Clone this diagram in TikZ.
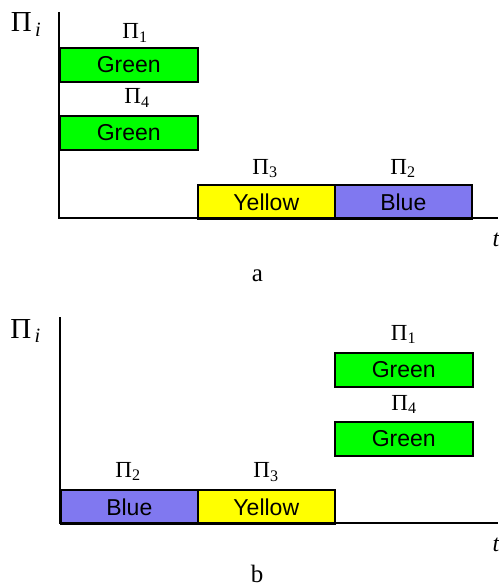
\documentclass[tikz,border=0pt]{standalone}
\usepackage{fontspec}
\setmainfont{Liberation Serif}
\newfontfamily\boxfont{Liberation Sans}
\definecolor{slotgreen}{RGB}{0,255,0}
\definecolor{slotyellow}{RGB}{255,255,0}
\definecolor{slotblue}{RGB}{128,120,240}
\newcommand{\procname}[1]{Π\textsubscript{#1}}
\tikzset{
  axis/.style={line width=2pt, black},
  slot/.style={draw=black, line width=1.6pt, inner sep=0pt, anchor=north west,
    minimum height=34pt, font=\boxfont\fontsize{23}{27}\selectfont},
  greenslot/.style={slot, fill=slotgreen, minimum width=138pt},
  yellowslot/.style={slot, fill=slotyellow, minimum width=137pt},
  blueslot/.style={slot, fill=slotblue, minimum width=137pt},
  plabel/.style={inner sep=0pt, anchor=base, font=\fontsize{23}{27}\selectfont},
  ylabel/.style={inner sep=0pt, anchor=base, font=\fontsize{29}{33}\selectfont},
  tlabel/.style={inner sep=0pt, anchor=base west, font=\itshape\fontsize{24}{28}\selectfont},
  caption/.style={inner sep=0pt, anchor=base, font=\fontsize{25}{29}\selectfont}
}
\begin{document}
\begin{tikzpicture}[x=1pt, y=-1pt]
\useasboundingbox (0,0) rectangle (498,588);

% ---------- schedule a ----------
\coordinate (aTop) at (59,12);
\coordinate (aOrig) at (59,218);
\coordinate (aEnd) at (498,218);
\node[greenslot]  (a1) at (59,47)   {Green};
\node[greenslot]  (a4) at (59,115)  {Green};
\node[yellowslot] (a3) at (197,184) {Yellow};
\node[blueslot]   (a2) at (334,184) {Blue};
\draw[axis] (aTop) -- (aOrig) -- (aEnd);
\node[plabel] (la1) at (135,38.3)  {\procname{1}};
\node[plabel] (la4) at (137,104)   {\procname{4}};
\node[plabel] (la3) at (265,174)   {\procname{3}};
\node[plabel] (la2) at (403,174)   {\procname{2}};
\node[ylabel] (ya) at (26,31.7) {Π\textsubscript{\,\itshape i}};
\node[tlabel] (ta) at (492.5,246) {t};
\node[caption] (capa) at (257.5,281) {a};

% ---------- schedule b ----------
\coordinate (bTop) at (60,317);
\coordinate (bOrig) at (60,523);
\coordinate (bEnd) at (498,523);
\node[blueslot]   (b2) at (60,489)  {Blue};
\node[yellowslot] (b3) at (197,489) {Yellow};
\node[greenslot]  (b1) at (334,352) {Green};
\node[greenslot]  (b4) at (334,421) {Green};
\draw[axis] (bTop) -- (bOrig) -- (bEnd);
\node[plabel] (lb2) at (128,477)  {\procname{2}};
\node[plabel] (lb3) at (266,477.5) {\procname{3}};
\node[plabel] (lb1) at (403.5,340) {\procname{1}};
\node[plabel] (lb4) at (404,410)  {\procname{4}};
\node[ylabel] (yb) at (25.5,338) {Π\textsubscript{\,\itshape i}};
\node[tlabel] (tb) at (492.5,551) {t};
\node[caption] (capb) at (257,582) {b};
\end{tikzpicture}
\end{document}
